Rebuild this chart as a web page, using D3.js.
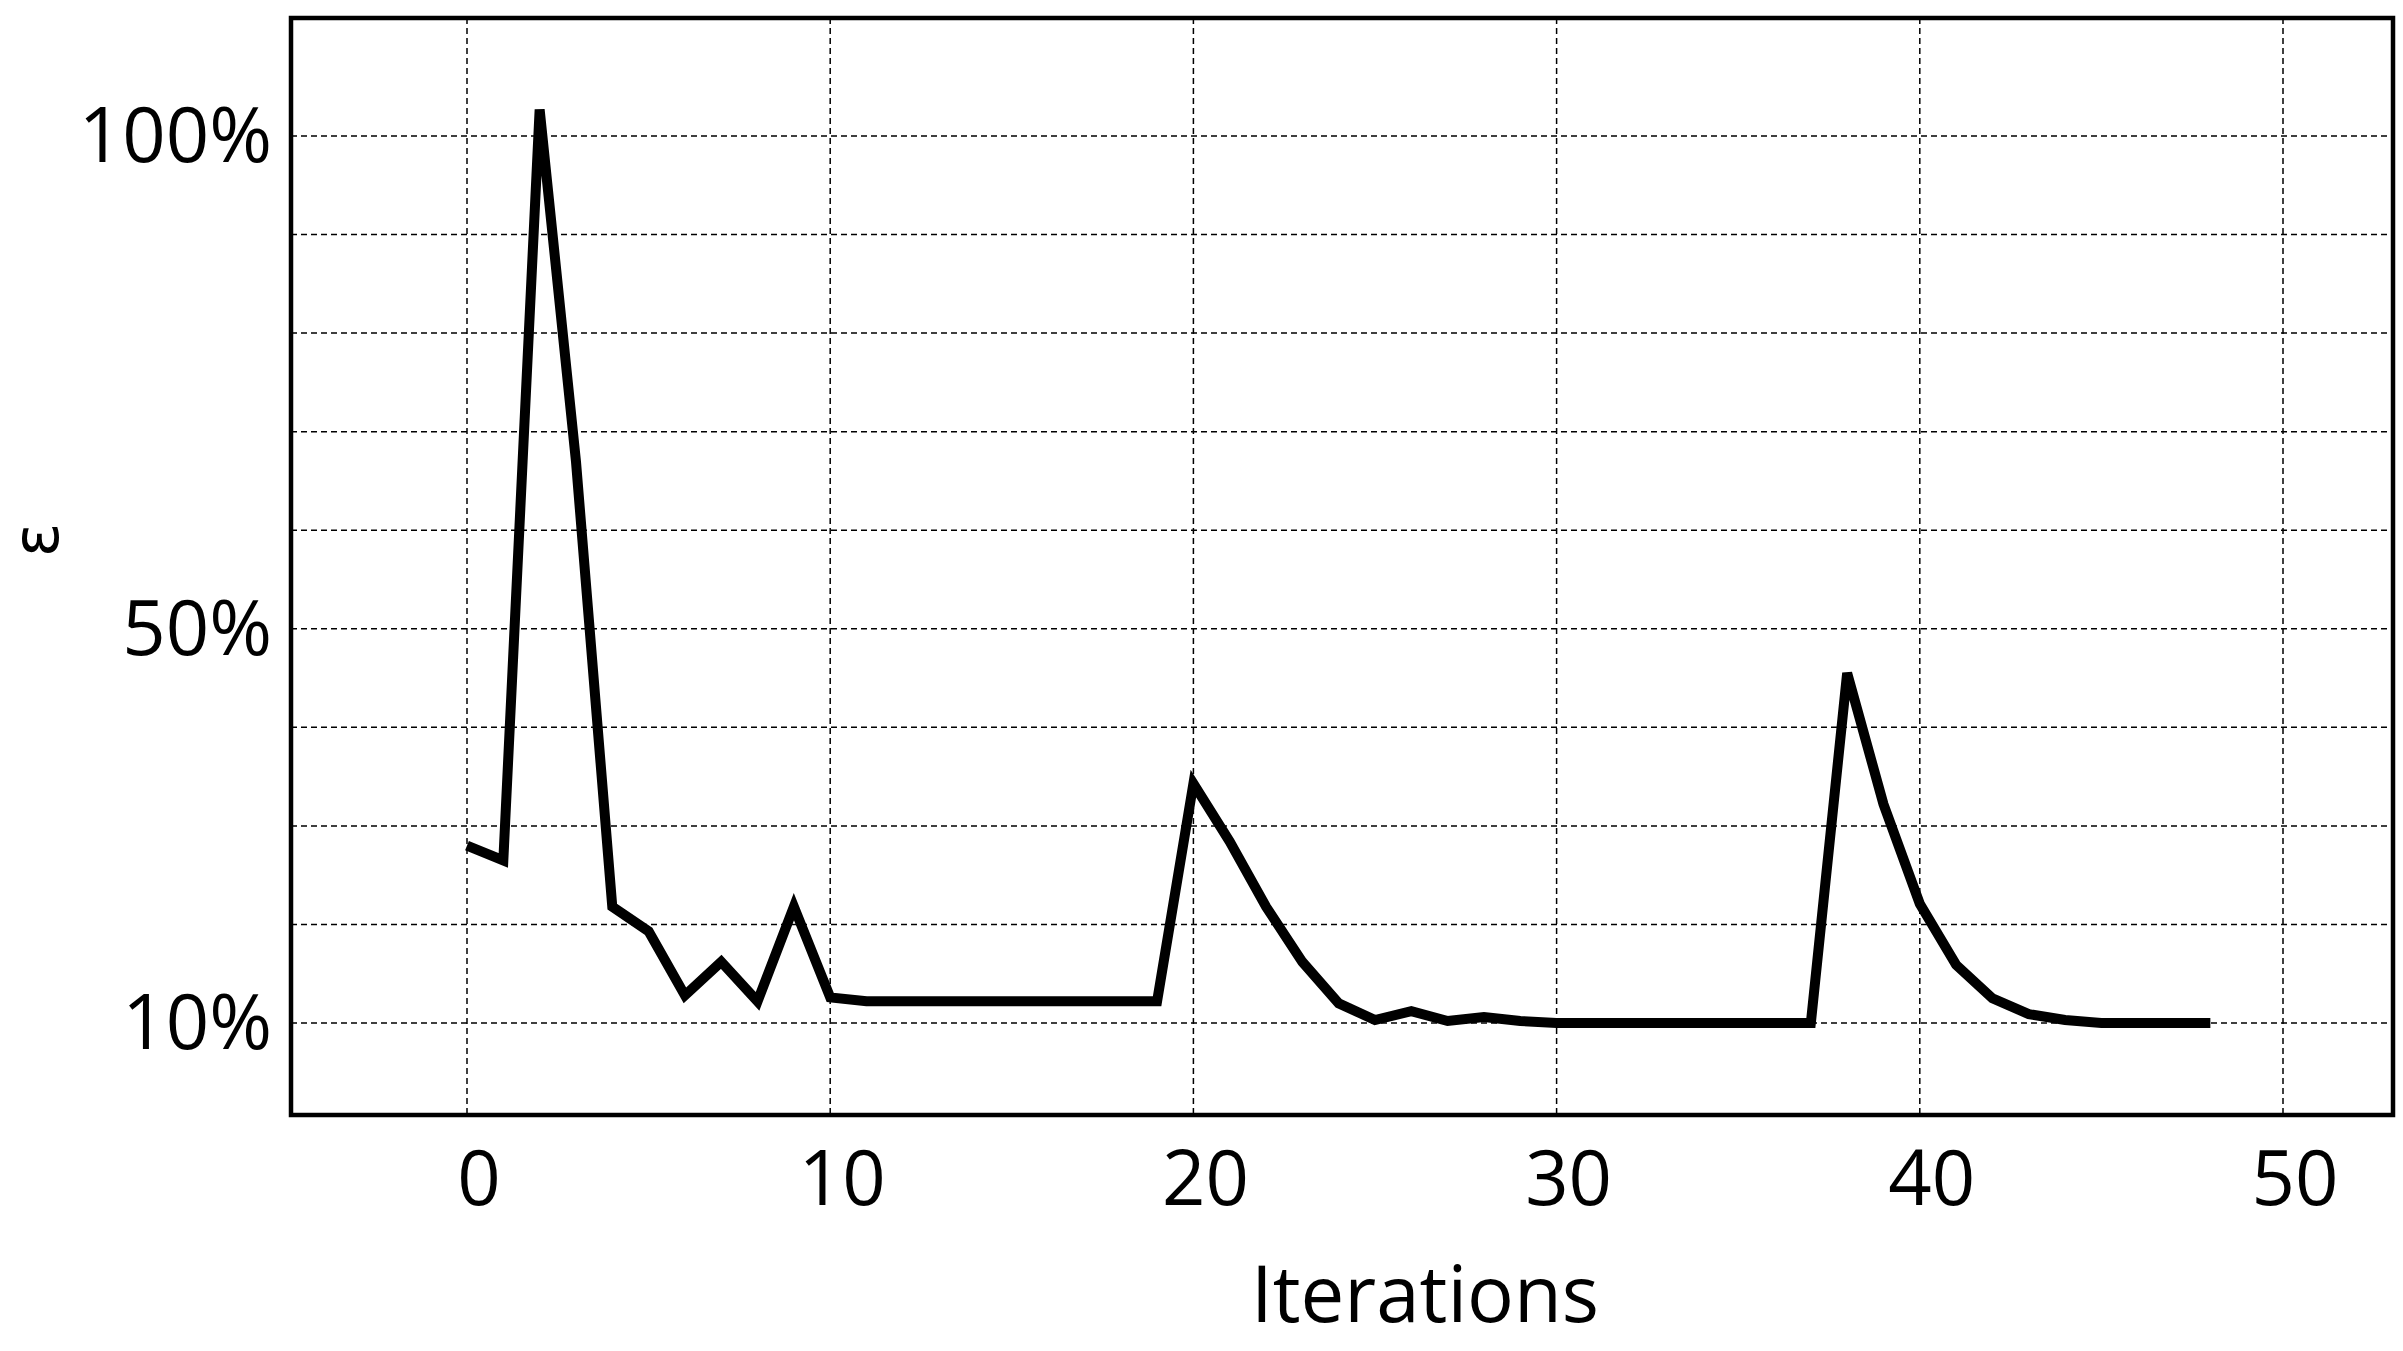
<!DOCTYPE html>
<html><head><meta charset="utf-8">
<script src="https://cdn.jsdelivr.net/npm/d3@7"></script>
<style>body{margin:0;background:#fff}</style></head>
<body><svg id="c" width="2403" height="1351"></svg>
<script>
const iterations = d3.range(0, 49);
const epsilon = [28.0,26.5,102.7,67,21.8,19.3,12.8,16.2,12.2,21.8,
12.6,12.2,12.2,12.2,12.2,12.2,12.2,12.2,12.2,12.2,
34.3,28.4,21.8,16.2,12.0,10.3,11.2,10.2,10.6,10.2,
10,10,10,10,10,10,10,10,45.5,32.2,
22.1,15.9,12.5,10.9,10.3,10,10,10,10];
const xTicks = [0,10,20,30,40,50];
const yGrid = [10,20,30,40,50,60,70,80,90,100];
const yLabels = [10,50,100];

const svg = d3.select("#c");
const L=291,R=2393,T=18,B=1115;
const x = d3.scaleLinear().domain([0,50]).range([467,2283]);
const y = d3.scaleLinear().domain([10,100]).range([1023,136]);

svg.append("g").selectAll("line").data(yGrid).join("line")
 .attr("x1",L).attr("x2",R).attr("y1",d=>y(d)).attr("y2",d=>y(d))
 .attr("stroke","#000").attr("stroke-width",1.5).attr("stroke-dasharray","6,4");
svg.append("g").selectAll("line").data(xTicks).join("line")
 .attr("y1",T).attr("y2",B).attr("x1",d=>x(d)).attr("x2",d=>x(d))
 .attr("stroke","#000").attr("stroke-width",1.5).attr("stroke-dasharray","6,4");

svg.append("path").datum(iterations)
 .attr("d",d3.line().x(i=>x(i)).y(i=>y(epsilon[i])))
 .attr("fill","none").attr("stroke","#000").attr("stroke-width",10).attr("stroke-linejoin","miter");

svg.append("rect").attr("x",L).attr("y",T).attr("width",R-L).attr("height",B-T)
 .attr("fill","none").attr("stroke","#000").attr("stroke-width",4.5);

svg.append("g").selectAll("text").data(xTicks).join("text")
 .attr("x",d=>x(d)+12).attr("y",1205).attr("text-anchor","middle")
 .attr("font-family","Open Sans").attr("font-size",76).text(d=>d);
svg.append("g").selectAll("text").data(yLabels).join("text")
 .attr("x",272).attr("y",d=>y(d)+26).attr("text-anchor","end")
 .attr("font-family","Open Sans").attr("font-size",76).text(d=>d+"%");

svg.append("text").attr("x",1425).attr("y",1322).attr("text-anchor","middle")
 .attr("font-family","Open Sans").attr("font-size",78).text("Iterations");
svg.append("text").attr("transform","translate(58,540) rotate(-90)").attr("text-anchor","middle")
 .attr("font-family","DejaVu Sans").attr("font-size",64).text("ε");
</script></body></html>
